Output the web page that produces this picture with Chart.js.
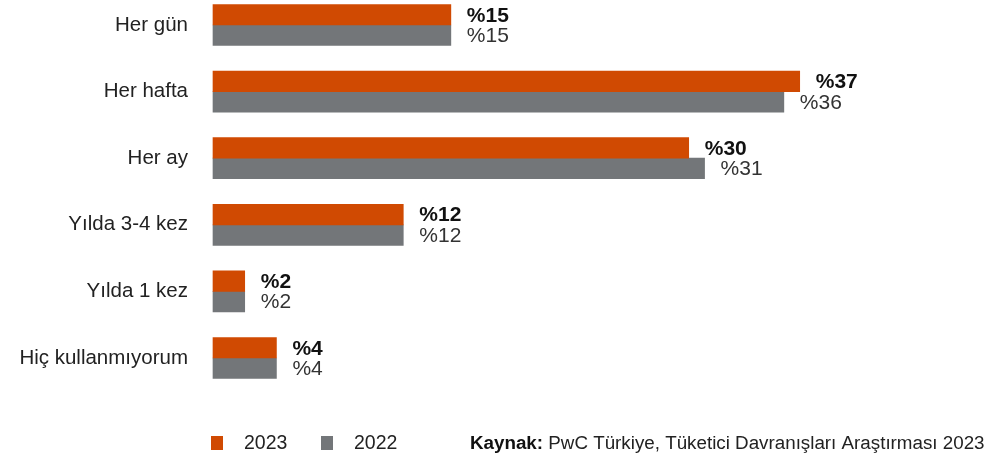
<!DOCTYPE html>
<html lang="tr">
<head>
<meta charset="utf-8">
<script src="https://cdn.jsdelivr.net/npm/chart.js@4/dist/chart.umd.min.js"></script>
<style>
  html, body { margin: 0; padding: 0; background: #fff; }
  #wrap { width: 990px; height: 458px; position: relative; }
</style>
</head>
<body>
<div id="wrap"><canvas id="chart"></canvas></div>
<script>
// categories and survey shares (%)
const categories = ["Her gün", "Her hafta", "Her ay", "Yılda 3-4 kez", "Yılda 1 kez", "Hiç kullanmıyorum"];
const values2023 = [15, 37, 30, 12, 2, 4];
const values2022 = [15, 36, 31, 12, 2, 4];
const seriesNames = ["2023", "2022"];
const sourceLabel = "Kaynak:";
const sourceText = " PwC Türkiye, Tüketici Davranışları Araştırması 2023";

const ORANGE = "#d04a02";
const GREY = "#737679";
const FONT = "'Liberation Sans', Arial, sans-serif";

// "%15" style labels at the end of each bar
const valueLabels = {
  id: "valueLabels",
  afterDatasetsDraw(chart) {
    const ctx = chart.ctx;
    ctx.save();
    ctx.textAlign = "left";
    ctx.textBaseline = "middle";
    chart.data.datasets.forEach((ds, di) => {
      const meta = chart.getDatasetMeta(di);
      ctx.font = (di === 0 ? "bold " : "") + "21px " + FONT;
      ctx.fillStyle = di === 0 ? "#111" : "#333";
      meta.data.forEach((bar, i) => {
        ctx.fillText("%" + ds.data[i], bar.x + 16, bar.y + 1);
      });
    });
    ctx.restore();
  }
};

// legend squares plus source note along the bottom
const footer = {
  id: "footer",
  afterDraw(chart) {
    const ctx = chart.ctx;
    const y = 443;
    ctx.save();
    ctx.textBaseline = "middle";
    ctx.textAlign = "left";
    const xs = [211, 321];
    chart.data.datasets.forEach((ds, i) => {
      ctx.fillStyle = ds.backgroundColor;
      ctx.fillRect(xs[i], y - 7, 12, 14);
      ctx.fillStyle = "#222";
      ctx.font = "19.5px " + FONT;
      ctx.fillText(ds.label, xs[i] + 33, y + 1);
    });
    ctx.font = "bold 18.8px " + FONT;
    ctx.fillStyle = "#111";
    ctx.fillText(sourceLabel, 470, y + 1);
    const w = ctx.measureText(sourceLabel).width;
    ctx.font = "18.8px " + FONT;
    ctx.fillStyle = "#222";
    ctx.fillText(sourceText, 470 + w, y + 1);
    ctx.restore();
  }
};

const ctx = document.getElementById("chart").getContext("2d");
new Chart(ctx, {
  type: "bar",
  data: {
    labels: categories,
    datasets: [
      { label: seriesNames[0], data: values2023, backgroundColor: ORANGE },
      { label: seriesNames[1], data: values2022, backgroundColor: GREY }
    ]
  },
  options: {
    indexAxis: "y",
    responsive: true,
    maintainAspectRatio: false,
    animation: false,
    layout: { padding: { top: 25, bottom: 100, left: 0, right: 0 } },
    datasets: { bar: { barThickness: 20.5, borderWidth: 0, clip: false } },
    plugins: {
      legend: { display: false },
      tooltip: { enabled: false }
    },
    scales: {
      x: { display: false, min: 0, max: 49 },
      y: {
        offset: false,
        grid: { display: false, drawTicks: false },
        border: { display: false },
        ticks: {
          padding: 25,
          color: "#222",
          font: { family: FONT, size: 20.5 }
        },
        afterFit(scale) {
          scale.width = 213;
          scale.paddingTop = 0;
          scale.paddingBottom = 0;
        }
      }
    }
  },
  plugins: [valueLabels, footer]
});
</script>
</body>
</html>
